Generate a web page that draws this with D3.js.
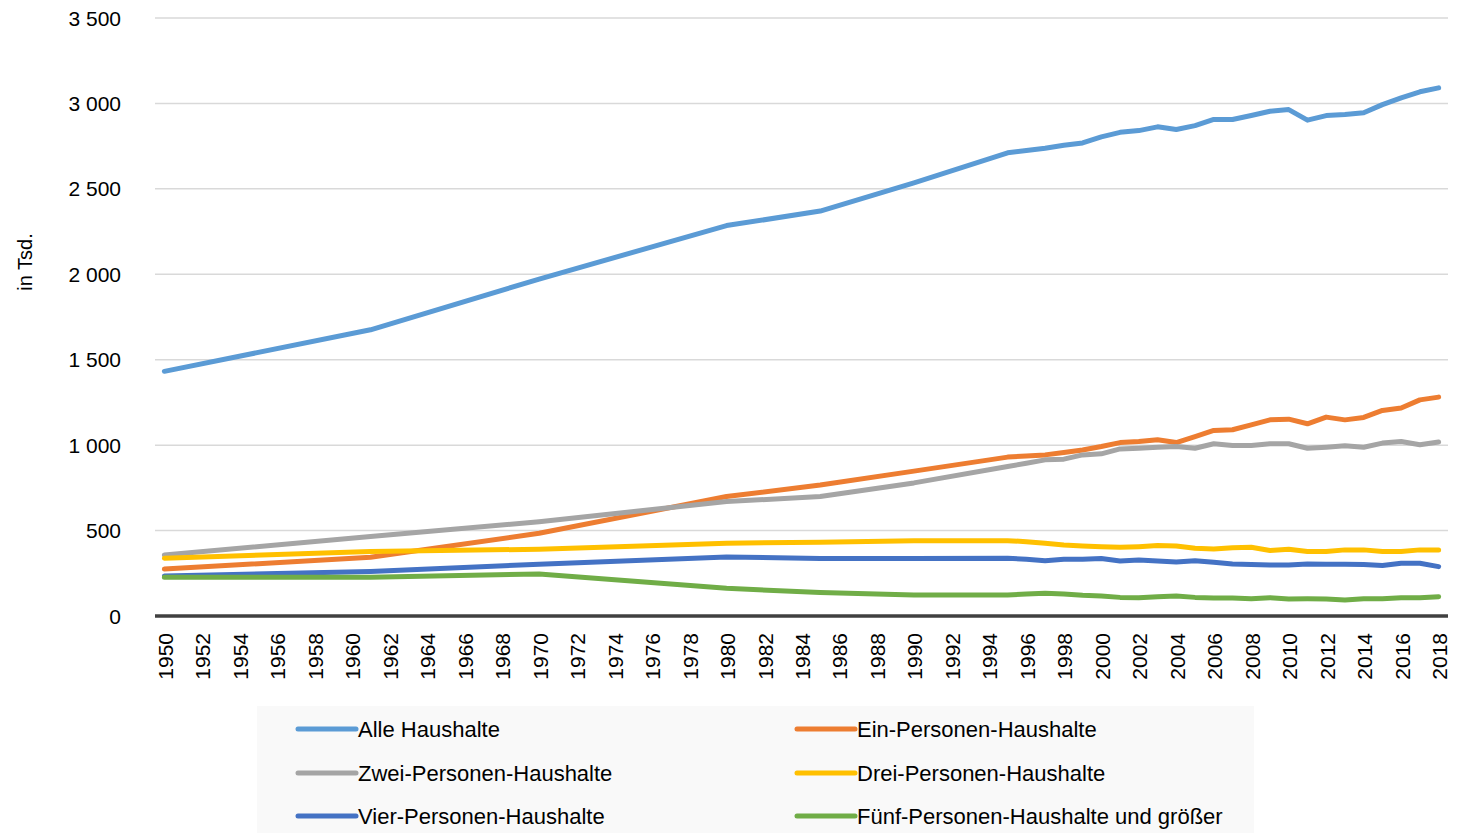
<!DOCTYPE html>
<html>
<head>
<meta charset="utf-8">
<script src="https://cdn.jsdelivr.net/npm/d3@7"></script>
<style>
  html, body { margin: 0; padding: 0; background: #fff; }
  svg { display: block; font-family: "Liberation Sans", Arial, sans-serif; }
</style>
</head>
<body>
<div id="chart"></div>
<script>
// Data (in Tsd.)
const years = [1950, 1961, 1970, 1980, 1985, 1990, 1995,
  1996, 1997, 1998, 1999, 2000, 2001, 2002, 2003, 2004, 2005, 2006, 2007,
  2008, 2009, 2010, 2011, 2012, 2013, 2014, 2015, 2016, 2017, 2018];

const alle  = [1432, 1675, 1972, 2285, 2370, 2535, 2711,
  2724, 2738, 2755, 2769, 2804, 2831, 2841, 2863, 2847, 2870, 2906, 2906,
  2929, 2954, 2964, 2902, 2929, 2935, 2945, 2993, 3033, 3068, 3091];
const ein   = [275, 344, 484, 699, 767, 848, 930,
  937, 943, 957, 972, 992, 1015, 1021, 1031, 1015, 1050, 1086, 1090,
  1119, 1148, 1152, 1125, 1164, 1148, 1162, 1203, 1217, 1265, 1281];
const zwei  = [357, 465, 552, 670, 699, 779, 875,
  894, 914, 918, 943, 949, 978, 982, 988, 992, 982, 1008, 998,
  998, 1008, 1008, 982, 988, 996, 988, 1012, 1021, 1002, 1018];
const drei  = [338, 377, 391, 426, 432, 441, 441,
  435, 426, 416, 410, 406, 402, 406, 412, 410, 396, 392, 400,
  402, 383, 391, 377, 377, 387, 387, 377, 377, 387, 387];
const vier  = [234, 260, 303, 346, 337, 336, 338,
  332, 324, 332, 332, 336, 322, 328, 322, 316, 324, 314, 305,
  301, 299, 299, 305, 303, 303, 301, 295, 309, 309, 289];
const fuenf = [227, 227, 246, 162, 137, 123, 123,
  129, 133, 129, 121, 117, 109, 107, 113, 117, 109, 105, 105,
  101, 107, 100, 101, 100, 94, 101, 101, 107, 107, 113];

const seriesNames = ["Alle Haushalte", "Ein-Personen-Haushalte", "Zwei-Personen-Haushalte",
  "Drei-Personen-Haushalte", "Vier-Personen-Haushalte", "Fünf-Personen-Haushalte und größer"];
const seriesValues = [alle, ein, zwei, drei, vier, fuenf];
const colors = ["#5B9BD5", "#ED7D31", "#A5A5A5", "#FFC000", "#4472C4", "#70AD47"];

const yTicks = [0, 500, 1000, 1500, 2000, 2500, 3000, 3500];
const xTickYears = d3.range(1950, 2019, 2);
const yLabel = "in Tsd.";

// Layout
const WIDTH = 1460, HEIGHT = 833;
const PLOT = { left: 155, right: 1448, top: 18, bottom: 616 };
const nCat = 2018 - 1950 + 1;
const catW = (PLOT.right - PLOT.left) / nCat;

const x = d3.scaleLinear()
  .domain([1950, 2018])
  .range([PLOT.left + catW / 2, PLOT.right - catW / 2]);
const y = d3.scaleLinear().domain([0, 3500]).range([PLOT.bottom, PLOT.top]);

const svg = d3.select("#chart").append("svg")
  .attr("width", WIDTH)
  .attr("height", HEIGHT);

// Gridlines
svg.append("g")
  .selectAll("line")
  .data(yTicks.filter(d => d > 0))
  .join("line")
  .attr("x1", PLOT.left).attr("x2", PLOT.right)
  .attr("y1", d => y(d)).attr("y2", d => y(d))
  .attr("stroke", "#d9d9d9")
  .attr("stroke-width", 1.5);

// Y tick labels
svg.append("g")
  .selectAll("text")
  .data(yTicks)
  .join("text")
  .attr("x", 121)
  .attr("y", d => y(d))
  .attr("text-anchor", "end")
  .attr("dominant-baseline", "central")
  .attr("font-size", "21px")
  .attr("fill", "#000")
  .text(d => d3.format(",")(d).replace(/,/g, " "));

// Y axis label
svg.append("text")
  .attr("transform", `translate(32,${(PLOT.top + PLOT.bottom) / 2 - 55}) rotate(-90)`)
  .attr("text-anchor", "middle")
  .attr("font-size", "20px")
  .attr("fill", "#000")
  .text(yLabel);

// X axis line
svg.append("line")
  .attr("x1", PLOT.left).attr("x2", PLOT.right)
  .attr("y1", PLOT.bottom).attr("y2", PLOT.bottom)
  .attr("stroke", "#404040")
  .attr("stroke-width", 3.5);

// X tick labels
svg.append("g")
  .selectAll("text")
  .data(xTickYears)
  .join("text")
  .attr("transform", d => `translate(${x(d) + 1},633) rotate(-90)`)
  .attr("text-anchor", "end")
  .attr("dominant-baseline", "central")
  .attr("font-size", "21px")
  .attr("fill", "#000")
  .text(d => d);

// Lines
const line = d3.line()
  .x(d => x(d[0]))
  .y(d => y(d[1]));

svg.append("g")
  .selectAll("path")
  .data(seriesValues.map((vals, i) => ({ i, pts: years.map((yr, k) => [yr, vals[k]]) })))
  .join("path")
  .attr("d", d => line(d.pts))
  .attr("fill", "none")
  .attr("stroke", d => colors[d.i])
  .attr("stroke-width", 5)
  .attr("stroke-linejoin", "round")
  .attr("stroke-linecap", "round");

// Legend
const legend = svg.append("g");
legend.append("rect")
  .attr("x", 257).attr("y", 706)
  .attr("width", 997).attr("height", 127)
  .attr("fill", "#f9f9f9");

const colX = [298, 797];
const rowY = [729, 773, 816];
const items = legend.selectAll("g.item")
  .data(seriesNames.map((name, i) => ({ name, i })))
  .join("g")
  .attr("class", "item")
  .attr("transform", d => `translate(${colX[d.i % 2]},${rowY[Math.floor(d.i / 2)]})`);

items.append("line")
  .attr("x1", 0).attr("x2", 58)
  .attr("y1", 0).attr("y2", 0)
  .attr("stroke", d => colors[d.i])
  .attr("stroke-width", 5)
  .attr("stroke-linecap", "round");

items.append("text")
  .attr("x", 60)
  .attr("y", 0)
  .attr("dominant-baseline", "central")
  .attr("font-size", "22px")
  .attr("fill", "#000")
  .text(d => d.name);
</script>
</body>
</html>
